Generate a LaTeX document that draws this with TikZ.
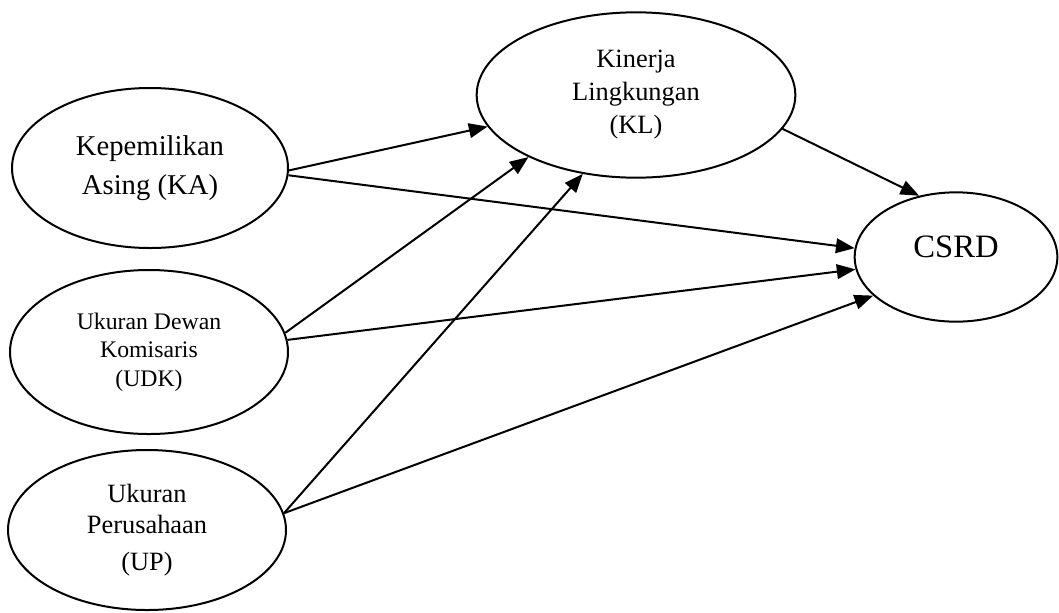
\documentclass[tikz,border=0pt]{standalone}
\usepackage{fontspec}
\setmainfont{Liberation Serif}
\usetikzlibrary{arrows.meta,shapes.geometric}
\begin{document}
\begin{tikzpicture}[x=0.75pt,y=-0.75pt,
elips/.style={draw,ellipse,line width=1.5pt,align=center,inner sep=0pt},
panah/.style={-{Triangle[length=14pt,width=11pt]},line width=1.5pt}]
\useasboundingbox (0,0) rectangle (1059,612);
\node[elips,minimum width=207pt,minimum height=120pt,font={\fontsize{21.5}{29}\selectfont}] (ka) at (150,168) {Kepemilikan\\Asing (KA)};
\node[elips,minimum width=208.5pt,minimum height=123pt,font={\fontsize{17.8}{21.4}\selectfont}] (udk) at (149,352) {Ukuran Dewan\\Komisaris\\(UDK)};
\node[elips,minimum width=208.5pt,minimum height=120pt,font={\fontsize{19.8}{23}\selectfont}] (up) at (147,530) {Ukuran\\Perusahaan\\[5pt](UP)};
\node[elips,minimum width=239pt,minimum height=124pt,font={\fontsize{19.8}{24.75}\selectfont}] (kl) at (636,95) {Kinerja\\Lingkungan\\(KL)};
\node[elips,minimum width=152pt,minimum height=97pt,text depth=15pt,font={\fontsize{24.5}{29}\selectfont}] (csrd) at (956,257) {CSRD};
\draw[panah] (ka.-1) -- (kl.192);
\draw[panah] (ka.-3) -- (csrd.175);
\draw[panah] (udk.8) -- (kl.210);
\draw[panah] (udk.5) -- (csrd.187);
\draw[panah] (up.7) -- (kl.236);
\draw[panah] (up.7) -- (csrd.205);
\draw[panah] (kl.-13) -- (csrd.121);
\end{tikzpicture}
\end{document}
